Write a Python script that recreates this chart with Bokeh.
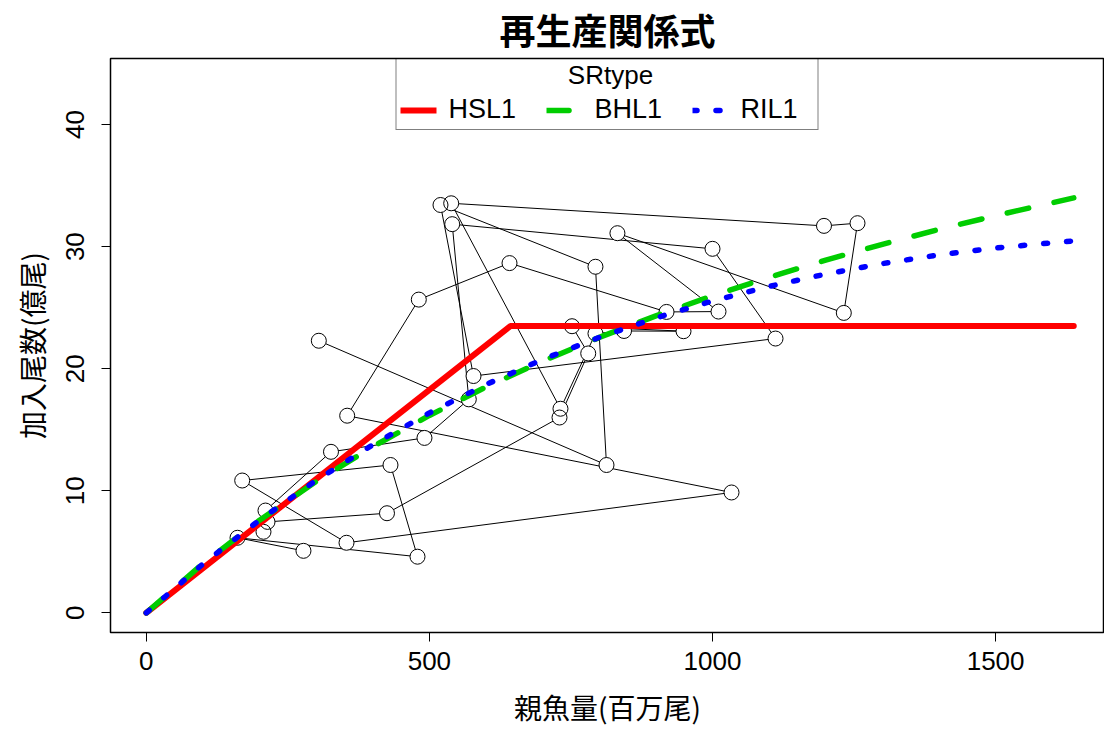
from bokeh.plotting import figure
from bokeh.models import Range1d, FixedTicker, Legend, LegendItem, Label
from bokeh.embed import file_html
from bokeh.resources import INLINE

title_text = "再生産関係式"
x_label = "親魚量(百万尾)"
y_label = "加入尾数(億尾)"
legend_title = "SRtype"
legend_labels = ["HSL1", "BHL1", "RIL1"]
x_ticks = [0, 500, 1000, 1500]
y_ticks = [0, 10, 20, 30, 40]

# observed spawning stock (x) and recruitment (y), in path order
ssb = [277.6, 161.1, 479.0, 431.3, 169.4, 353.6, 1033.6, 354.8, 481.3, 641.5,
       918.8, 1010.6, 832.1, 1231.9, 1256.1, 1196.9, 538.5, 731.5, 793.3, 843.7,
       948.8, 751.9, 780.5, 729.8, 425.1, 214.1, 207.0, 210.5, 326.2, 491.3,
       569.6, 540.3, 1000.0, 1111.3, 577.9, 519.6, 793.3, 812.8, 304.7]
rec = [5.08, 6.15, 4.60, 12.11, 10.84, 5.74, 9.86, 16.15, 25.66, 28.65,
       24.65, 24.68, 31.10, 24.57, 31.92, 31.70, 33.55, 16.72, 22.88, 23.09,
       23.07, 23.48, 21.25, 16.00, 8.16, 7.45, 6.64, 8.38, 13.19, 14.33,
       17.49, 31.84, 29.82, 22.47, 19.40, 33.41, 28.35, 12.11, 22.29]

# fitted curves
hsl1_ssb = [0, 643, 1638]
hsl1_rec = [0, 23.49, 23.49]
curve_ssb = [0, 100, 200, 300, 400, 500, 600, 700, 800, 900, 1000, 1100, 1200, 1300, 1400, 1500, 1638]
bhl1_rec = [0, 4.03, 7.59, 10.76, 13.61, 16.17, 18.50, 20.62, 22.56, 24.33, 25.97, 27.49, 28.89, 30.19, 31.41, 32.54, 33.99]
ril1_rec = [0, 4.00, 7.60, 10.85, 13.77, 16.38, 18.70, 20.76, 22.57, 24.16, 25.55, 26.74, 27.75, 28.61, 29.32, 29.89, 30.47]

p = figure(width=1104, height=729, output_backend="svg", toolbar_location=None,
           x_range=Range1d(-63.2, 1692.3), y_range=Range1d(-1.61, 45.41),
           min_border_left=110, min_border_right=0, min_border_top=58, min_border_bottom=95)
p.background_fill_color = "white"
p.border_fill_color = "white"
p.grid.visible = False
p.outline_line_color = "black"
p.outline_line_width = 1.5

p.title.text = title_text
p.title.align = "center"
p.title.text_font = "Liberation Sans, Noto Sans CJK JP"
p.title.text_font_size = "36px"
p.title.text_font_style = "bold"
p.title.text_color = "black"
p.title.standoff = 12

p.xaxis.ticker = FixedTicker(ticks=x_ticks)
p.yaxis.ticker = FixedTicker(ticks=y_ticks)
p.xaxis.axis_label = x_label
p.yaxis.axis_label = y_label
p.yaxis.major_label_orientation = "vertical"
for ax in (p.xaxis[0], p.yaxis[0]):
    ax.axis_line_color = None
    ax.major_tick_out = 9
    ax.major_tick_in = 0
    ax.major_tick_line_color = "black"
    ax.major_tick_line_width = 1
    ax.minor_tick_line_color = None
    ax.major_label_text_font = "Liberation Sans"
    ax.major_label_text_font_size = "26px"
    ax.major_label_text_color = "black"
    ax.axis_label_text_font = "Noto Sans CJK JP"
    ax.axis_label_text_font_size = "28px"
    ax.axis_label_text_font_style = "normal"
    ax.axis_label_text_color = "black"
p.xaxis.major_label_standoff = 10
p.xaxis.axis_label_standoff = 14
p.yaxis.major_label_standoff = 17
p.yaxis.axis_label_standoff = 12

# observed path (lines with gaps at points)
p.line(ssb, rec, line_color="black", line_width=1)
p.scatter(ssb, rec, size=15, fill_color="white", line_color=None)
p.scatter(ssb, rec, size=15, fill_color=None, line_color="black", line_width=1)

r_hs = p.line(hsl1_ssb, hsl1_rec, line_color="#FF0000", line_width=6, line_cap="round")
r_bh = p.line(curve_ssb, bhl1_rec, line_color="#00CD00", line_width=5.5, line_dash="22 26", line_cap="round")
r_ri = p.line(curve_ssb, ril1_rec, line_color="#0000FF", line_width=5.5, line_dash="4 19", line_cap="round")

# legend title drawn as a centred label inside the (transparent) legend box
p.add_layout(Label(x=819.8, y=44.02, text=legend_title,
                   text_align="center", text_baseline="middle", text_font="Liberation Sans",
                   text_font_size="26px", text_color="black"))

legend = Legend(items=[LegendItem(label=legend_labels[0], renderers=[r_hs]),
                       LegendItem(label=legend_labels[1], renderers=[r_bh]),
                       LegendItem(label=legend_labels[2], renderers=[r_ri])],
                orientation="horizontal", location="top_center", margin=0, padding=4,
                spacing=25, glyph_width=36, glyph_height=20, label_standoff=12, label_width=73,
                label_text_font="Liberation Sans", label_text_font_size="27px", label_text_color="black",
                title=legend_title, title_text_font="Liberation Sans", title_text_font_size="26px",
                title_text_alpha=0, title_standoff=0,
                border_line_color="black", border_line_width=1.5,
                background_fill_alpha=0)
p.add_layout(legend)

open("out.html", "w", encoding="utf-8").write(file_html(p, INLINE))
